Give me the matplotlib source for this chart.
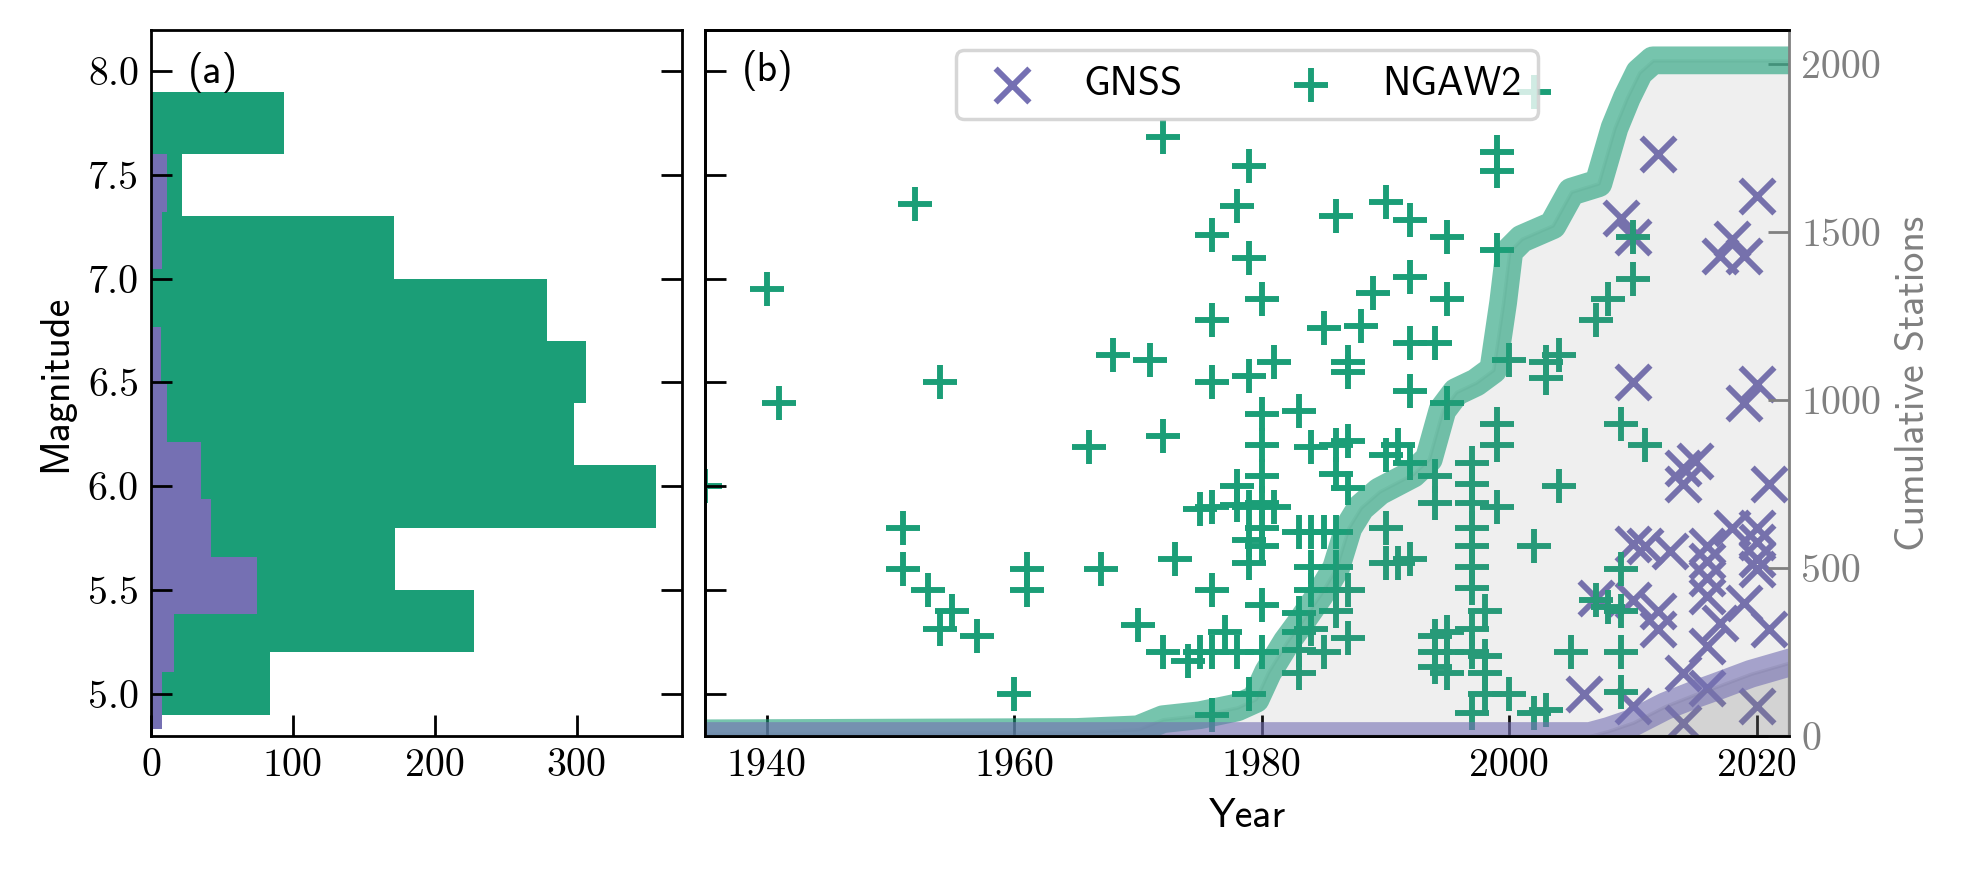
import matplotlib
matplotlib.use('Agg')
import matplotlib.pyplot as plt
import numpy as np

GREEN = '#1b9e77'
PURPLE = '#7570b3'

plt.rcParams['font.family'] = ['cmss10', 'DejaVu Sans']
plt.rcParams['axes.unicode_minus'] = False
FS = 11.5

# (a) magnitude histograms (record counts per bin)
ngaw2_edges = [4.90, 5.20, 5.50, 5.80, 6.10, 6.40, 6.70, 7.00, 7.30, 7.60, 7.90]
ngaw2_counts = [84, 228, 172, 356, 298, 307, 279, 171, 22, 94]
gnss_edges = [4.830, 5.107, 5.384, 5.661, 5.938, 6.215, 6.492, 6.769, 7.046, 7.323, 7.600]
gnss_counts = [8, 16, 75, 42, 35, 11, 7, 0, 8, 11]

# (b) events: year vs magnitude
ngaw2_year = [1935, 1940, 1941, 1951, 1951, 1952, 1953, 1954, 1954, 1955, 1957, 1960,
              1961, 1961, 1966, 1967, 1968, 1970, 1971, 1972, 1972, 1972, 1973, 1974,
              1975, 1975, 1976, 1976, 1976, 1976, 1976, 1976, 1976, 1977, 1978, 1978,
              1978, 1978, 1979, 1979, 1979, 1979, 1979, 1979, 1979, 1980, 1980, 1980,
              1980, 1980, 1980, 1980, 1980, 1980, 1981, 1981, 1983, 1983, 1983, 1983,
              1983, 1983, 1984, 1984, 1984, 1984, 1984, 1985, 1985, 1985, 1986, 1986,
              1986, 1986, 1986, 1986, 1986, 1987, 1987, 1987, 1987, 1987, 1987, 1988,
              1989, 1990, 1990, 1990, 1990, 1991, 1991, 1992, 1992, 1992, 1992, 1992,
              1992, 1994, 1994, 1994, 1994, 1994, 1994, 1995, 1995, 1995, 1995, 1995,
              1995, 1997, 1997, 1997, 1997, 1997, 1997, 1997, 1997, 1997, 1997, 1998,
              1998, 1998, 1998, 1999, 1999, 1999, 1999, 1999, 1999, 2000, 2000, 2002,
              2002, 2002, 2003, 2003, 2003, 2004, 2004, 2005, 2007, 2007, 2008, 2008,
              2009, 2009, 2009, 2009, 2009, 2010, 2010, 2011]
ngaw2_mag = [6.00, 6.95, 6.40, 5.80, 5.60, 7.36, 5.50, 6.50, 5.31, 5.40, 5.28, 5.00,
             5.60, 5.50, 6.19, 5.60, 6.63, 5.33, 6.61, 7.68, 6.24, 5.20, 5.65, 5.16,
             5.89, 5.20, 7.21, 6.80, 6.50, 5.90, 5.50, 5.20, 4.90, 5.30, 7.35, 6.00,
             5.91, 5.20, 7.54, 7.10, 6.53, 5.90, 5.74, 5.63, 5.00, 6.90, 6.35, 6.20,
             6.05, 5.92, 5.80, 5.71, 5.43, 5.20, 6.60, 5.90, 6.36, 5.78, 5.39, 5.30,
             5.21, 5.10, 6.19, 5.78, 5.61, 5.50, 5.31, 6.76, 5.78, 5.20, 7.30, 6.20,
             6.06, 5.78, 5.61, 5.50, 5.40, 6.60, 6.55, 6.22, 5.99, 5.50, 5.27, 6.77,
             6.93, 7.37, 6.15, 5.80, 5.63, 6.20, 5.63, 7.28, 7.01, 6.69, 6.46, 6.11,
             5.65, 6.69, 6.05, 5.92, 5.28, 5.20, 5.13, 7.20, 6.90, 6.40, 5.30, 5.20,
             5.10, 6.11, 6.01, 5.92, 5.80, 5.71, 5.61, 5.51, 5.31, 5.20, 4.91, 5.40,
             5.18, 5.10, 5.00, 7.61, 7.52, 7.14, 6.30, 6.20, 5.90, 6.61, 5.00, 7.90,
             5.71, 4.91, 6.60, 6.52, 4.92, 6.63, 6.00, 5.20, 6.80, 5.45, 6.90, 5.42,
             6.30, 5.60, 5.40, 5.20, 5.01, 7.20, 7.00, 6.20]

gnss_year = [2006, 2007, 2009, 2010, 2010, 2010, 2010, 2010, 2011, 2012, 2012, 2012,
             2013, 2014, 2014, 2014, 2014, 2015, 2016, 2016, 2016, 2016, 2016, 2016,
             2017, 2017, 2018, 2018, 2019, 2019, 2019, 2020, 2020, 2020, 2020, 2020,
             2020, 2020, 2021, 2021]
gnss_mag = [5.00, 5.46, 7.29, 7.20, 6.50, 5.72, 5.45, 4.94, 5.71, 7.60, 5.40, 5.31,
            5.69, 6.09, 6.01, 5.10, 4.86, 6.12, 5.71, 5.64, 5.56, 5.47, 5.23, 5.03,
            7.11, 5.34, 7.19, 5.80, 7.11, 6.40, 5.44, 7.40, 6.49, 5.80, 5.73, 5.65,
            5.60, 4.94, 6.01, 5.31]

# cumulative number of stations
ngaw2_cum_year = [1935, 1965, 1970, 1972, 1975, 1978, 1979.5, 1980.5, 1982, 1983,
                  1984.7, 1986, 1987, 1988, 1989.5, 1992.2, 1993.5, 1994.6, 1995.7,
                  1997.3, 1998.7, 1999.5, 2000, 2001, 2003.5, 2005, 2007.2, 2008.5,
                  2009.5, 2010.5, 2011.6, 2022.6]
ngaw2_cum = [8, 12, 20, 50, 62, 85, 110, 190, 280, 330, 420, 500, 620, 680, 728, 780,
             825, 970, 1024, 1052, 1090, 1290, 1443, 1480, 1520, 1620, 1645, 1810,
             1900, 1975, 2011, 2011]
gnss_cum_year = [1935, 2006.5, 2008, 2010, 2012.6, 2015, 2016.6, 2019.5, 2022.6]
gnss_cum = [0, 0, 15, 40, 89, 124, 145, 185, 218]


fig = plt.figure(figsize=(7.868, 3.48), dpi=250)
ax_a = fig.add_axes([0.0768, 0.154, 0.2700, 0.811])
ax_b = fig.add_axes([0.3584, 0.154, 0.5511, 0.811], sharey=ax_a)
ax_c = ax_b.twinx()

# в”Җв”Җ (a) histogram в”Җв”Җ
ax_a.barh(ngaw2_edges[:-1], ngaw2_counts, height=np.diff(ngaw2_edges),
          align='edge', color=GREEN)
ax_a.barh(gnss_edges[:-1], gnss_counts, height=np.diff(gnss_edges),
          align='edge', color=PURPLE)
ax_a.set_xlim(0, 374.5)
ax_a.set_ylim(4.797, 8.195)
ax_a.set_xticks([0, 100, 200, 300])
ax_a.set_yticks([5.0, 5.5, 6.0, 6.5, 7.0, 7.5, 8.0])
ax_a.tick_params(axis='both', direction='in', length=6, labelsize=FS,
                 labelfontfamily='cmr10')
ax_a.tick_params(axis='y', right=True)
ax_a.set_ylabel('Magnitude', fontsize=FS)
ax_a.text(0.07, 0.94, '(a)', transform=ax_a.transAxes, va='center', fontsize=FS)

# в”Җв”Җ (b) events в”Җв”Җ
h_gnss = ax_b.scatter(gnss_year, gnss_mag, marker='x', s=95, color=PURPLE,
                      linewidths=1.7, label='GNSS')
h_ngaw2 = ax_b.scatter(ngaw2_year, ngaw2_mag, marker='+', s=95, color=GREEN,
                       linewidths=1.7, label='NGAW2')
ax_b.set_xlim(1935, 2022.6)
ax_b.set_xticks([1940, 1960, 1980, 2000, 2020])
ax_b.tick_params(axis='both', direction='in', length=6, labelsize=FS,
                 labelfontfamily='cmr10', labelleft=False)
ax_b.set_xlabel('Year', fontsize=FS)
ax_b.spines['right'].set_visible(False)
ax_b.text(0.034, 0.943, '(b)', transform=ax_b.transAxes, va='center', fontsize=FS)

# cumulative stations on twin axis
ax_c.fill_between(ngaw2_cum_year, ngaw2_cum, color='gray', alpha=0.12)
ax_c.fill_between(gnss_cum_year, gnss_cum, color='gray', alpha=0.25)
ax_c.plot(ngaw2_cum_year, ngaw2_cum, color=GREEN, lw=8, alpha=0.6)
ax_c.plot(gnss_cum_year, gnss_cum, color=PURPLE, lw=8, alpha=0.6)
ax_c.set_ylim(0, 2100)
ax_c.set_yticks([0, 500, 1000, 1500, 2000])
ax_c.tick_params(axis='y', direction='in', length=6, colors='gray',
                 labelsize=FS, labelfontfamily='cmr10')
ax_c.spines['right'].set_color('gray')
ax_c.set_ylabel('Cumulative Stations', color='gray', fontsize=FS)

ax_c.legend([h_gnss, h_ngaw2], ['GNSS', 'NGAW2'], loc='upper center', ncol=2,
            columnspacing=2.2, fontsize=FS, scatterpoints=1)

fig.savefig('out.png', dpi=250, facecolor='white')
